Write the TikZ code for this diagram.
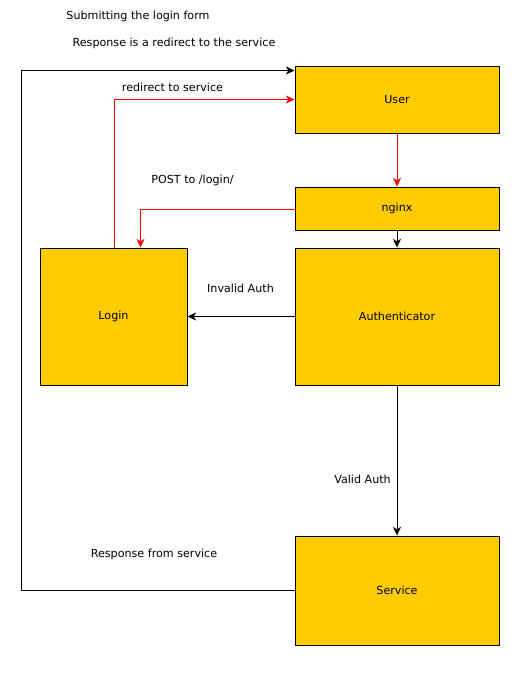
\documentclass[tikz,border=0pt]{standalone}
\usepackage{fontspec}
\setmainfont{DejaVu Sans}
\usetikzlibrary{arrows.meta}
\definecolor{boxfill}{RGB}{255,204,0}
\definecolor{redline}{RGB}{255,0,0}
\tikzset{
  box/.style={draw=black, line width=0.75pt, fill=boxfill, inner sep=0pt, font=\fontsize{8.35pt}{10pt}\selectfont},
  lbl/.style={inner sep=0pt, font=\fontsize{8.35pt}{10pt}\selectfont},
  conn/.style={line width=0.75pt, -{Stealth[length=6.5pt,width=6pt,inset=2pt]}},
  redconn/.style={conn, draw=redline, color=redline},
}
\begin{document}
\begin{tikzpicture}[x=0.75pt, y=-0.75pt]
\useasboundingbox (0,0) rectangle (527,675);
\node[box, minimum width=204*0.75pt, minimum height=67*0.75pt] (user) at (397,99.5) {User};
\node[box, minimum width=204*0.75pt, minimum height=43*0.75pt] (nginx) at (397,208.5) {nginx};
\node[box, minimum width=204*0.75pt, minimum height=137*0.75pt] (auth) at (397,316.5) {Authenticator};
\node[box, minimum width=147*0.75pt, minimum height=137*0.75pt] (login) at (113.5,316.5) {Login};
\node[box, minimum width=204*0.75pt, minimum height=109*0.75pt] (service) at (397,590.5) {Service};

\node[lbl] (t1) at (138,16) {Submitting the login form};
\node[lbl] (t2) at (174,43) {Response is a redirect to the service};
\node[lbl] (t3) at (172.5,87) {redirect to service};
\node[lbl] (t4) at (192.5,180) {POST to /login/};
\node[lbl] (t5) at (240.5,288) {Invalid Auth};
\node[lbl] (t6) at (362.5,479) {Valid Auth};
\node[lbl] (t7) at (154,554) {Response from service};

\coordinate (c1) at (21.5,590.5);
\coordinate (c2) at (21.5,70.5);
\draw[conn] (service.west |- 0,590.5) -- (c1) -- (c2) -- (user.west |- 0,70.5);
\coordinate (c3) at (114.5,99.5);
\draw[redconn] (login.north -| 114.5,0) -- (c3) -- (user.west |- 0,99.5);
\draw[redconn] (user.south) -- (nginx.north);
\coordinate (c4) at (140.5,209.5);
\draw[redconn] (nginx.west |- 0,209.5) -- (c4) -- (login.north -| 140.5,0);
\draw[conn] (nginx.south) -- (auth.north);
\draw[conn] (auth.west) -- (login.east);
\draw[conn] (auth.south) -- (service.north);
\end{tikzpicture}
\end{document}
